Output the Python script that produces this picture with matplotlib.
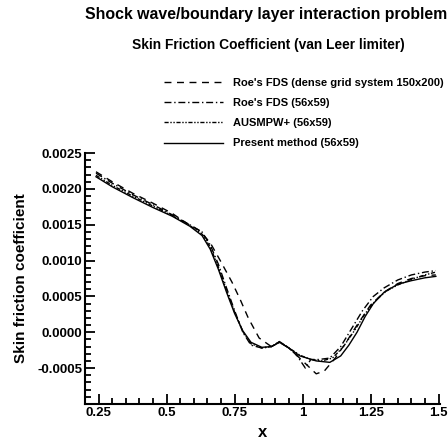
import matplotlib
matplotlib.use('Agg')
import matplotlib.pyplot as plt
from matplotlib.ticker import MultipleLocator, FixedFormatter, FixedLocator

plt.rcParams['font.family'] = ['Liberation Sans', 'DejaVu Sans']
plt.rcParams['font.weight'] = 'bold'

# Roe's FDS, dense grid 150x200 (long dashes)
x_dense = [0.24, 0.30, 0.375, 0.45, 0.52, 0.57, 0.62, 0.66, 0.70, 0.74, 0.77, 0.80, 0.84,
           0.885, 0.915, 0.95, 1.0, 1.05, 1.08, 1.12, 1.16, 1.20, 1.25, 1.30, 1.35, 1.40, 1.45, 1.49]
cf_dense = [2.24, 2.10, 1.94, 1.80, 1.66, 1.53, 1.42, 1.25, 0.98, 0.70, 0.46, 0.20, -0.08,
            -0.20, -0.13, -0.22, -0.40, -0.58, -0.54, -0.36, -0.14, 0.10, 0.38, 0.56, 0.68, 0.75, 0.79, 0.80]

# Roe's FDS 56x59 (dash-dot)
x_roe = [0.24, 0.30, 0.375, 0.45, 0.52, 0.585, 0.63, 0.66, 0.69, 0.72, 0.75, 0.78, 0.81, 0.85,
         0.885, 0.915, 0.95, 0.98, 1.01, 1.03, 1.06, 1.10, 1.14, 1.18, 1.22, 1.26, 1.30, 1.35, 1.40, 1.45, 1.49]
cf_roe = [2.22, 2.08, 1.92, 1.78, 1.64, 1.50, 1.40, 1.22, 0.95, 0.62, 0.30, 0.0, -0.18, -0.22,
          -0.20, -0.14, -0.22, -0.33, -0.50, -0.38, -0.38, -0.36, -0.20, 0.05, 0.30, 0.50, 0.62, 0.73, 0.80, 0.84, 0.86]

# AUSMPW+ 56x59 (dash-dot-dot)
x_ausm = [0.24, 0.30, 0.375, 0.45, 0.52, 0.585, 0.63, 0.66, 0.69, 0.72, 0.75, 0.78, 0.81, 0.85,
          0.885, 0.915, 0.95, 0.99, 1.03, 1.07, 1.11, 1.15, 1.19, 1.23, 1.27, 1.31, 1.35, 1.40, 1.45, 1.49]
cf_ausm = [2.19, 2.05, 1.90, 1.76, 1.63, 1.49, 1.37, 1.19, 0.91, 0.59, 0.28, 0.01, -0.16, -0.22,
           -0.20, -0.13, -0.22, -0.32, -0.38, -0.40, -0.36, -0.20, 0.02, 0.26, 0.45, 0.58, 0.66, 0.74, 0.80, 0.84]

# Present method 56x59 (solid)
x_present = [0.24, 0.30, 0.375, 0.45, 0.52, 0.585, 0.63, 0.66, 0.69, 0.72, 0.75, 0.78, 0.81, 0.85,
             0.885, 0.915, 0.945, 0.99, 1.05, 1.10, 1.14, 1.17, 1.20, 1.23, 1.26, 1.30, 1.35, 1.40, 1.45, 1.49]
cf_present = [2.17, 2.03, 1.88, 1.74, 1.62, 1.48, 1.35, 1.16, 0.88, 0.56, 0.26, 0.02, -0.14, -0.21,
              -0.20, -0.14, -0.21, -0.33, -0.40, -0.42, -0.33, -0.18, 0.0, 0.22, 0.40, 0.56, 0.67, 0.72, 0.76, 0.78]

labels = ["Roe's FDS (dense grid system 150x200)", "Roe's FDS (56x59)",
          "AUSMPW+ (56x59)", "Present method (56x59)"]
x_ticks = [0.25, 0.5, 0.75, 1.0, 1.25, 1.5]
x_ticklabels = ['0.25', '0.5', '0.75', '1', '1.25', '1.5']
y_ticks = [-0.0005, 0.0, 0.0005, 0.0010, 0.0015, 0.0020, 0.0025]
y_ticklabels = ['-0.0005', '0.0000', '0.0005', '0.0010', '0.0015', '0.0020', '0.0025']

fig = plt.figure(figsize=(4.48, 4.40), dpi=100)
ax = fig.add_axes([0.19, 0.082, 0.792, 0.570])

s = 1e-3
l1, = ax.plot(x_dense, [v * s for v in cf_dense], color='black', lw=1, dashes=(5, 4))
l2, = ax.plot(x_roe, [v * s for v in cf_roe], color='black', lw=1, dashes=(5, 2, 1, 2))
l3, = ax.plot(x_ausm, [v * s for v in cf_ausm], color='black', lw=1, dashes=(3, 1.2, 1, 1.2, 1, 1.2))
l4, = ax.plot(x_present, [v * s for v in cf_present], color='black', lw=1)

ax.set_xlim(0.2, 1.505)
ax.set_ylim(-0.001, 0.0025)
ax.xaxis.set_major_locator(FixedLocator(x_ticks))
ax.xaxis.set_major_formatter(FixedFormatter(x_ticklabels))
ax.xaxis.set_minor_locator(MultipleLocator(0.05))
ax.yaxis.set_major_locator(FixedLocator(y_ticks))
ax.yaxis.set_major_formatter(FixedFormatter(y_ticklabels))
ax.yaxis.set_minor_locator(MultipleLocator(0.0001))
ax.tick_params(which='both', direction='in', width=1.3, labelsize=9.5, pad=2)
ax.tick_params(which='major', length=7)
ax.tick_params(which='minor', length=4)
for sp in ['top', 'right']:
    ax.spines[sp].set_visible(False)
for sp in ['left', 'bottom']:
    ax.spines[sp].set_linewidth(1.5)
for t in ax.get_xticklabels() + ax.get_yticklabels():
    t.set_fontweight('bold')

ax.set_xlabel('x', fontsize=12, fontweight='bold', labelpad=4.2)
ax.set_ylabel('Skin friction coefficient', fontsize=11, fontweight='bold', labelpad=6.6)

fig.text(0.594, 0.966, 'Shock wave/boundary layer interaction problem',
         ha='center', va='center', fontsize=11.4, fontweight='bold')
fig.text(0.600, 0.898, 'Skin Friction Coefficient (van Leer limiter)',
         ha='center', va='center', fontsize=9.9, fontweight='bold')

fig.legend([l1, l2, l3, l4], labels, loc='upper left',
           bbox_to_anchor=(0.366, 1 - 77.5 / 440), frameon=False,
           handlelength=5.3, handletextpad=0.9, labelspacing=0.93, borderpad=0,
           borderaxespad=0, prop={'weight': 'bold', 'size': 8})

fig.savefig('out.png', dpi=100)
